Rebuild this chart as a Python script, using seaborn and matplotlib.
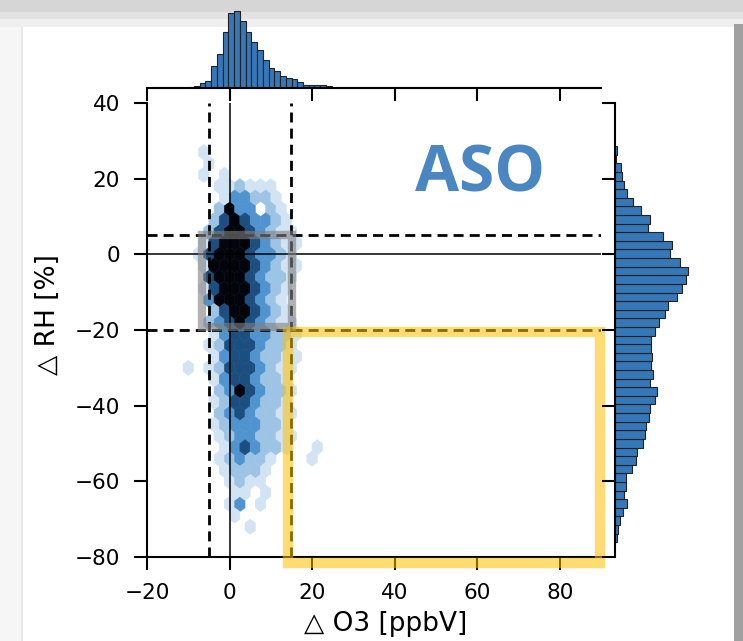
import numpy as np
import matplotlib
matplotlib.use("Agg")
import matplotlib.pyplot as plt
from matplotlib.colors import ListedColormap
from matplotlib.patches import Rectangle
import seaborn as sns

# ---- values ----
# hexbin: RH of each hex row (top to bottom), one density level (0 = empty .. 5 = darkest) per O3 column
rh_rows = [27, 24, 21, 18, 15, 12, 9, 6, 3, 0, -3, -6, -9, -12, -15, -18, -21, -24,
           -27, -30, -33, -36, -39, -42, -45, -48, -51, -54, -57, -60, -63, -66, -69, -72]
hex_levels = [
    "01000000000000",
    "00100000000000",
    "01010000000000",
    "00011211100000",
    "00013322100000",
    "00025330210000",
    "00245433210000",
    "00245543211000",
    "01455543211000",
    "01455543321000",
    "01555543211000",
    "00455543221000",
    "01455543210000",
    "00355543210000",
    "00245543210000",
    "00234543211000",
    "00134433221000",
    "00124443221000",
    "00134432211000",
    "10124443211000",
    "00134432210000",
    "00023543221000",
    "00124432210000",
    "00023432211000",
    "00123332210000",
    "00012332211000",
    "00013432210010",
    "00012322100010",
    "00012221000000",
    "00001211000000",
    "00001101000000",
    "00001301000000",
    "00001000000000",
    "00000010000000",
]
# O3 hex columns for the two interleaved hex lattices
o3_cols_a = [-10.0, -7.5, -5.0, -2.5, 0.0, 2.5, 5.0, 7.5, 10.0, 12.5, 15.0, 17.5, 20.0, 22.5]
o3_cols_b = [-8.75, -6.25, -3.75, -1.25, 1.25, 3.75, 6.25, 8.75, 11.25, 13.75, 16.25, 18.75, 21.25, 23.75]

# marginal histograms (relative counts)
o3_counts = [3, 7, 15, 21, 65, 100, 167, 223, 229, 198, 166, 136, 113, 82, 59,
             51, 37, 30, 26, 19, 10, 10, 10, 8, 5]
o3_bin_range = (-10.0, 24.75)
rh_counts_top_down = [5, 3, 17, 20, 28, 36, 53, 78, 106, 99, 143, 170, 166, 195, 219,
                      213, 201, 186, 160, 151, 133, 121, 108, 109, 110, 108, 114, 105,
                      126, 120, 106, 102, 92, 90, 83, 67, 63, 51, 34, 32, 27, 36, 24,
                      14, 9, 7]
rh_bin_range = (-76.1, 28.6)

hex_x, hex_y, hex_c = [], [], []
for rh, row in zip(rh_rows, hex_levels):
    cols = o3_cols_b if (rh + 78) % 6 else o3_cols_a
    for o3, lev in zip(cols, row):
        if lev != "0":
            hex_x.append(o3)
            hex_y.append(rh)
            hex_c.append(int(lev))

sns.set_style("ticks")
plt.rcParams.update({
    "axes.linewidth": 1.5,
    "xtick.major.width": 1.5, "ytick.major.width": 1.5,
    "xtick.major.size": 9, "ytick.major.size": 9.5,
    "xtick.major.pad": 10, "ytick.major.pad": 10,
    "xtick.labelsize": 15.5, "ytick.labelsize": 15.5,
    "axes.labelsize": 19,
    "xtick.color": "black", "ytick.color": "black",
    "axes.edgecolor": "black", "text.color": "black", "axes.labelcolor": "black",
})
plt.rcParams["font.family"] = ["DejaVu Sans"]

g = sns.JointGrid(height=6.41, ratio=5, space=0.2)
fig = g.figure
fig.set_size_inches(7.43, 6.41)
W, H = 743.0, 641.0

def px_box(x0, y0, x1, y1):
    return [x0 / W, 1 - y1 / H, (x1 - x0) / W, (y1 - y0) / H]

g.ax_joint.set_position(px_box(147, 103, 601, 557))
g.ax_marg_x.set_position(px_box(147, 0, 601, 88))
g.ax_marg_y.set_position(px_box(615, 103, 706, 557))
for a in (g.ax_joint, g.ax_marg_x, g.ax_marg_y):
    a.set_facecolor("none")

# slide shadow around the picture
chrome = [((0, 0, 743, 12), "#d6d6d6"), ((0, 12, 743, 19), "#e2e2e2"),
          ((0, 19, 743, 27), "#efefef"), ((0, 27, 22, 641), "#f6f6f6"),
          ((21, 27, 23, 641), "#e8e8e8"), ((734, 24, 743, 641), "#a0a0a0")]
for (x0, y0, x1, y1), col in chrome:
    b = px_box(x0, y0, x1, y1)
    fig.add_artist(Rectangle((b[0], b[1]), b[2], b[3], transform=fig.transFigure,
                             facecolor=col, edgecolor="none", zorder=-5))

ax = g.ax_joint
hex_cmap = ListedColormap(sns.color_palette(["#d2e3f3", "#9dc3e5", "#5094cf", "#1d4e80", "#02060c"]))
ax.hexbin(hex_x, hex_y, C=hex_c, reduce_C_function=np.max, gridsize=(14, 19),
          extent=(-10, 25, -78, 36), cmap=hex_cmap, vmin=0.5, vmax=5.5,
          linewidths=0.4, edgecolors="face", zorder=1)

bar_color = "#3677b8"
o3_step = (o3_bin_range[1] - o3_bin_range[0]) / len(o3_counts)
o3_mid = [o3_bin_range[0] + (i + 0.5) * o3_step for i in range(len(o3_counts))]
sns.histplot(x=o3_mid, weights=o3_counts, bins=len(o3_counts), binrange=o3_bin_range,
             ax=g.ax_marg_x, color=bar_color, edgecolor="#222222", linewidth=0.8, alpha=1)
rh_counts = rh_counts_top_down[::-1]
rh_step = (rh_bin_range[1] - rh_bin_range[0]) / len(rh_counts)
rh_mid = [rh_bin_range[0] + (i + 0.5) * rh_step for i in range(len(rh_counts))]
sns.histplot(y=rh_mid, weights=rh_counts, bins=len(rh_counts), binrange=rh_bin_range,
             ax=g.ax_marg_y, color=bar_color, edgecolor="#222222", linewidth=0.8, alpha=1)

# reference lines
ax.axvline(0, color="black", lw=1.1, zorder=2)
ax.axhline(0, color="black", lw=1.1, zorder=2)
for v in (-5, 15):
    ax.axvline(v, color="black", lw=2.0, dashes=(3.6, 2.2), zorder=2)
for h in (5, -20):
    ax.axhline(h, color="black", lw=2.0, dashes=(3.6, 2.2), zorder=2)

ax.add_patch(Rectangle((-6.6, -19.3), 21.8, 24.3, fill=False, edgecolor="#808080",
                       alpha=0.6, lw=6, zorder=3))
ax.add_patch(Rectangle((14.2, -81.6), 75.6, 61.1, fill=False, edgecolor="#FFC000",
                       alpha=0.55, lw=7.5, zorder=3, clip_on=False, joinstyle="miter"))

ax.text(60.7, 16.5, "ASO", ha="center", va="baseline", fontsize=46,
        fontweight="bold", color="#4A86C2", family=["Open Sans", "DejaVu Sans"])

ax.set_xlim(-20, 90)
ax.set_ylim(-80, 40)
ax.set_xticks([-20, 0, 20, 40, 60, 80])
ax.set_yticks([-80, -60, -40, -20, 0, 20, 40])
g.ax_marg_x.set_ylim(0, 262)
g.ax_marg_y.set_xlim(0, 273)

ax.set_xlabel("\u25b3 O3 [ppbV]")
ax.set_ylabel("\u25b3 RH [%]")
ax.xaxis.set_label_coords(0.526, -0.119)
ax.yaxis.set_label_coords(-0.189, 0.533)

fig.savefig("out.png", dpi=100)
